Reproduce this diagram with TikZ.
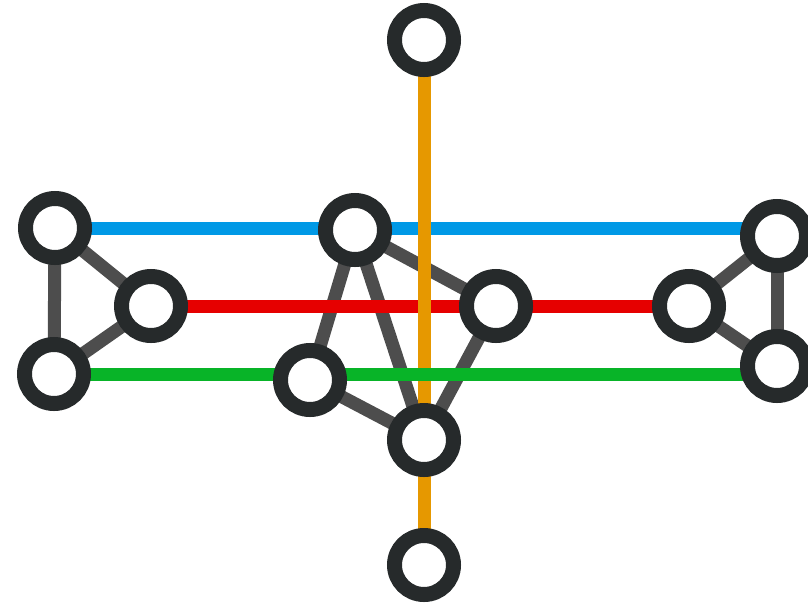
\documentclass[tikz,border=0pt]{standalone}
\definecolor{ringc}{RGB}{38,42,43}
\definecolor{edgec}{RGB}{77,77,77}
\definecolor{blueL}{RGB}{0,153,230}
\definecolor{redL}{RGB}{230,0,0}
\definecolor{greenL}{RGB}{8,180,40}
\definecolor{orangeL}{RGB}{230,152,0}
\pgfdeclarelayer{bg}
\pgfsetlayers{bg,main}
\tikzset{
  vtx/.style={circle,draw=ringc,fill=white,line width=15pt,minimum size=59pt,inner sep=0pt},
  gedge/.style={draw=edgec,line width=13pt},
  cline/.style={line width=13pt}
}
\begin{document}
\begin{tikzpicture}[x=1pt,y=-1pt]
\useasboundingbox (0,0) rectangle (808,606);
\node[vtx] (T) at (424,40) {};
\node[vtx] (Bo) at (424,565) {};
\node[vtx] (A) at (55,228) {};
\node[vtx] (B) at (151,306) {};
\node[vtx] (C) at (54,374) {};
\node[vtx] (D) at (355,230) {};
\node[vtx] (E) at (496,306) {};
\node[vtx] (F) at (310,380) {};
\node[vtx] (G) at (424,440) {};
\node[vtx] (H) at (777,236) {};
\node[vtx] (I) at (689,306) {};
\node[vtx] (J) at (777,366) {};
\begin{pgfonlayer}{bg}
\draw[gedge] (A.center) -- (B.center);
\draw[gedge] (A.center) -- (C.center);
\draw[gedge] (B.center) -- (C.center);
\draw[gedge] (D.center) -- (F.center);
\draw[gedge] (D.center) -- (G.center);
\draw[gedge] (D.center) -- (E.center);
\draw[gedge] (F.center) -- (G.center);
\draw[gedge] (E.center) -- (G.center);
\draw[gedge] (H.center) -- (I.center);
\draw[gedge] (H.center) -- (J.center);
\draw[gedge] (I.center) -- (J.center);
\draw[cline,blueL] (A.center) -- (A.center -| H.center);
\draw[cline,redL] (B.center) -- (I.center);
\draw[cline,orangeL] (T.center) -- (Bo.center);
\draw[cline,greenL] (C.center) -- (C.center -| J.center);
\end{pgfonlayer}
\end{tikzpicture}
\end{document}
